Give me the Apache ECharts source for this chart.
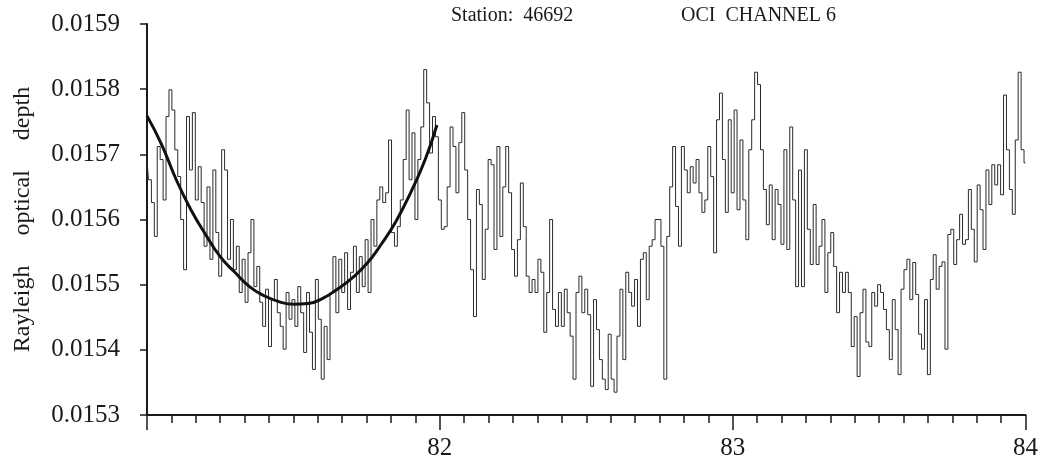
<!DOCTYPE html>
<html>
<head>
<meta charset="utf-8">
<title>Rayleigh optical depth</title>
<script src="https://cdn.jsdelivr.net/npm/echarts@6/dist/echarts.min.js"></script>
<style>
  html, body { margin: 0; padding: 0; background: #fff; }
  #chart-target { width: 1041px; height: 461px; }
</style>
</head>
<body>
<div id="chart-target"></div>
<script>
  // sampling of the series along the time axis (years 81 - 84)
  const startYear = 81
  const stepYear = 0.01

  // Rayleigh optical depth
  const depth = [
    0.015692, 0.015661, 0.015626, 0.015574, 0.015712, 0.015692, 0.015630, 0.015758, 0.015799, 0.015768,
    0.015707, 0.015666, 0.015600, 0.015523, 0.015758, 0.015676, 0.015764, 0.015630, 0.015681, 0.015626,
    0.015559, 0.015650, 0.015539, 0.015676, 0.015580, 0.015513, 0.015707, 0.015676, 0.015539, 0.015600,
    0.015523, 0.015559, 0.015488, 0.015539, 0.015473, 0.015549, 0.015600, 0.015497, 0.015528, 0.015473,
    0.015436, 0.015493, 0.015405, 0.015477, 0.015508, 0.015457, 0.015436, 0.015401, 0.015488, 0.015447,
    0.015477, 0.015436, 0.015497, 0.015457, 0.015396, 0.015488, 0.015427, 0.015370, 0.015508, 0.015447,
    0.015355, 0.015436, 0.015385, 0.015488, 0.015543, 0.015457, 0.015539, 0.015488, 0.015549, 0.015462,
    0.015519, 0.015559, 0.015488, 0.015543, 0.015497, 0.015569, 0.015488, 0.015600, 0.015559, 0.015630,
    0.015650, 0.015626, 0.015641, 0.015722, 0.015580, 0.015559, 0.015589, 0.015630, 0.015692, 0.015768,
    0.015661, 0.015733, 0.015600, 0.015692, 0.015742, 0.015830, 0.015779, 0.015702, 0.015758, 0.015727,
    0.015630, 0.015585, 0.015589, 0.015650, 0.015742, 0.015712, 0.015641, 0.015718, 0.015764, 0.015676,
    0.015600, 0.015523, 0.015451, 0.015646, 0.015623, 0.015508, 0.015585, 0.015692, 0.015684, 0.015554,
    0.015712, 0.015574, 0.015650, 0.015712, 0.015641, 0.015554, 0.015513, 0.015569, 0.015656, 0.015589,
    0.015513, 0.015488, 0.015508, 0.015488, 0.015539, 0.015519, 0.015427, 0.015488, 0.015600, 0.015462,
    0.015436, 0.015488, 0.015436, 0.015493, 0.015457, 0.015421, 0.015355, 0.015488, 0.015513, 0.015457,
    0.015493, 0.015454, 0.015344, 0.015477, 0.015431, 0.015385, 0.015355, 0.015339, 0.015424, 0.015355,
    0.015335, 0.015421, 0.015493, 0.015385, 0.015519, 0.015488, 0.015467, 0.015508, 0.015436, 0.015539,
    0.015549, 0.015477, 0.015559, 0.015569, 0.015600, 0.015600, 0.015559, 0.015355, 0.015574, 0.015650,
    0.015712, 0.015620, 0.015559, 0.015712, 0.015676, 0.015641, 0.015681, 0.015656, 0.015692, 0.015641,
    0.015611, 0.015630, 0.015712, 0.015666, 0.015549, 0.015753, 0.015794, 0.015692, 0.015611, 0.015753,
    0.015641, 0.015768, 0.015615, 0.015722, 0.015630, 0.015569, 0.015707, 0.015753, 0.015826, 0.015807,
    0.015707, 0.015646, 0.015592, 0.015653, 0.015569, 0.015646, 0.015623, 0.015562, 0.015707, 0.015554,
    0.015742, 0.015630, 0.015497, 0.015676, 0.015497, 0.015707, 0.015585, 0.015531, 0.015623, 0.015531,
    0.015559, 0.015600, 0.015488, 0.015549, 0.015580, 0.015528, 0.015457, 0.015519, 0.015488, 0.015519,
    0.015488, 0.015405, 0.015451, 0.015359, 0.015457, 0.015493, 0.015412, 0.015405, 0.015488, 0.015467,
    0.015500, 0.015488, 0.015462, 0.015431, 0.015385, 0.015477, 0.015431, 0.015362, 0.015493, 0.015523,
    0.015539, 0.015477, 0.015534, 0.015485, 0.015424, 0.015401, 0.015477, 0.015362, 0.015508, 0.015546,
    0.015493, 0.015528, 0.015535, 0.015401, 0.015577, 0.015585, 0.015531, 0.015569, 0.015608, 0.015562,
    0.015569, 0.015646, 0.015585, 0.015535, 0.015653, 0.015615, 0.015554, 0.015676, 0.015623, 0.015684,
    0.015653, 0.015684, 0.015638, 0.015791, 0.015707, 0.015646, 0.015608, 0.015722, 0.015826, 0.015707,
    0.015687
  ]

  // fitted curve over the first year
  const fitYears = [81.00, 81.05, 81.10, 81.15, 81.20, 81.25, 81.30, 81.35, 81.40, 81.45, 81.50,
                    81.55, 81.60, 81.65, 81.70, 81.75, 81.80, 81.85, 81.90, 81.95, 81.99]
  const fitDepth = [0.015759, 0.015715, 0.015661, 0.015615, 0.015577, 0.015543, 0.015519, 0.015497,
                    0.015483, 0.015474, 0.015470, 0.015471, 0.015479, 0.015493, 0.015510, 0.015532,
                    0.015562, 0.015597, 0.015641, 0.015692, 0.015745]

  const yMin = 0.0153
  const yMax = 0.0159
  const yStep = 0.0001
  const hiddenXLabels = [81]

  const serif = '"Liberation Serif", "DejaVu Serif", serif'
  const ink = '#1a1a1a'

  let myChart = echarts.init(document.getElementById('chart-target'), null, {renderer: 'canvas'})
  myChart.setOption({
    animation: false,
    backgroundColor: '#fff',
    title: [
      {
        text: 'Station:  46692',
        left: 446,
        top: 1,
        textStyle: {fontFamily: serif, fontSize: 20, fontWeight: 'normal', color: ink}
      },
      {
        text: 'OCI  CHANNEL 6',
        left: 676,
        top: 1,
        textStyle: {fontFamily: serif, fontSize: 20, fontWeight: 'normal', color: ink}
      }
    ],
    grid: {
      left: 147,
      right: 15,
      top: 24,
      bottom: 45
    },
    xAxis: {
      type: 'value',
      min: 81,
      max: 84,
      interval: 1,
      splitLine: {show: false},
      axisLine: {lineStyle: {color: ink, width: 2}},
      axisTick: {length: 15, lineStyle: {color: ink, width: 1.5}},
      minorTick: {show: true, splitNumber: 12, length: 8, lineStyle: {color: ink, width: 1.5}},
      axisLabel: {
        margin: 21,
        fontFamily: serif,
        fontSize: 25,
        color: ink,
        formatter: v => hiddenXLabels.indexOf(v) >= 0 ? '' : String(v)
      }
    },
    yAxis: {
      type: 'value',
      min: yMin,
      max: yMax,
      interval: yStep,
      name: 'Rayleigh     optical     depth',
      nameLocation: 'middle',
      nameRotate: 90,
      nameGap: 112,
      nameTextStyle: {fontFamily: serif, fontSize: 24, color: ink},
      splitLine: {show: false},
      axisLine: {show: true, lineStyle: {color: ink, width: 2}},
      axisTick: {show: true, length: 7, lineStyle: {color: ink, width: 1.5}},
      axisLabel: {
        margin: 27,
        fontFamily: serif,
        fontSize: 25,
        color: ink,
        formatter: v => v.toFixed(4)
      }
    },
    series: [
      {
        name: 'depth',
        type: 'line',
        step: 'middle',
        showSymbol: false,
        lineStyle: {color: '#2a2a2a', width: 1},
        data: depth.map((d, i) => [+(startYear + i * stepYear).toFixed(2), d])
      },
      {
        name: 'fit',
        type: 'line',
        smooth: true,
        showSymbol: false,
        lineStyle: {color: '#111', width: 3},
        data: fitYears.map((x, i) => [x, fitDepth[i]])
      }
    ]
  })
</script>
</body>
</html>
